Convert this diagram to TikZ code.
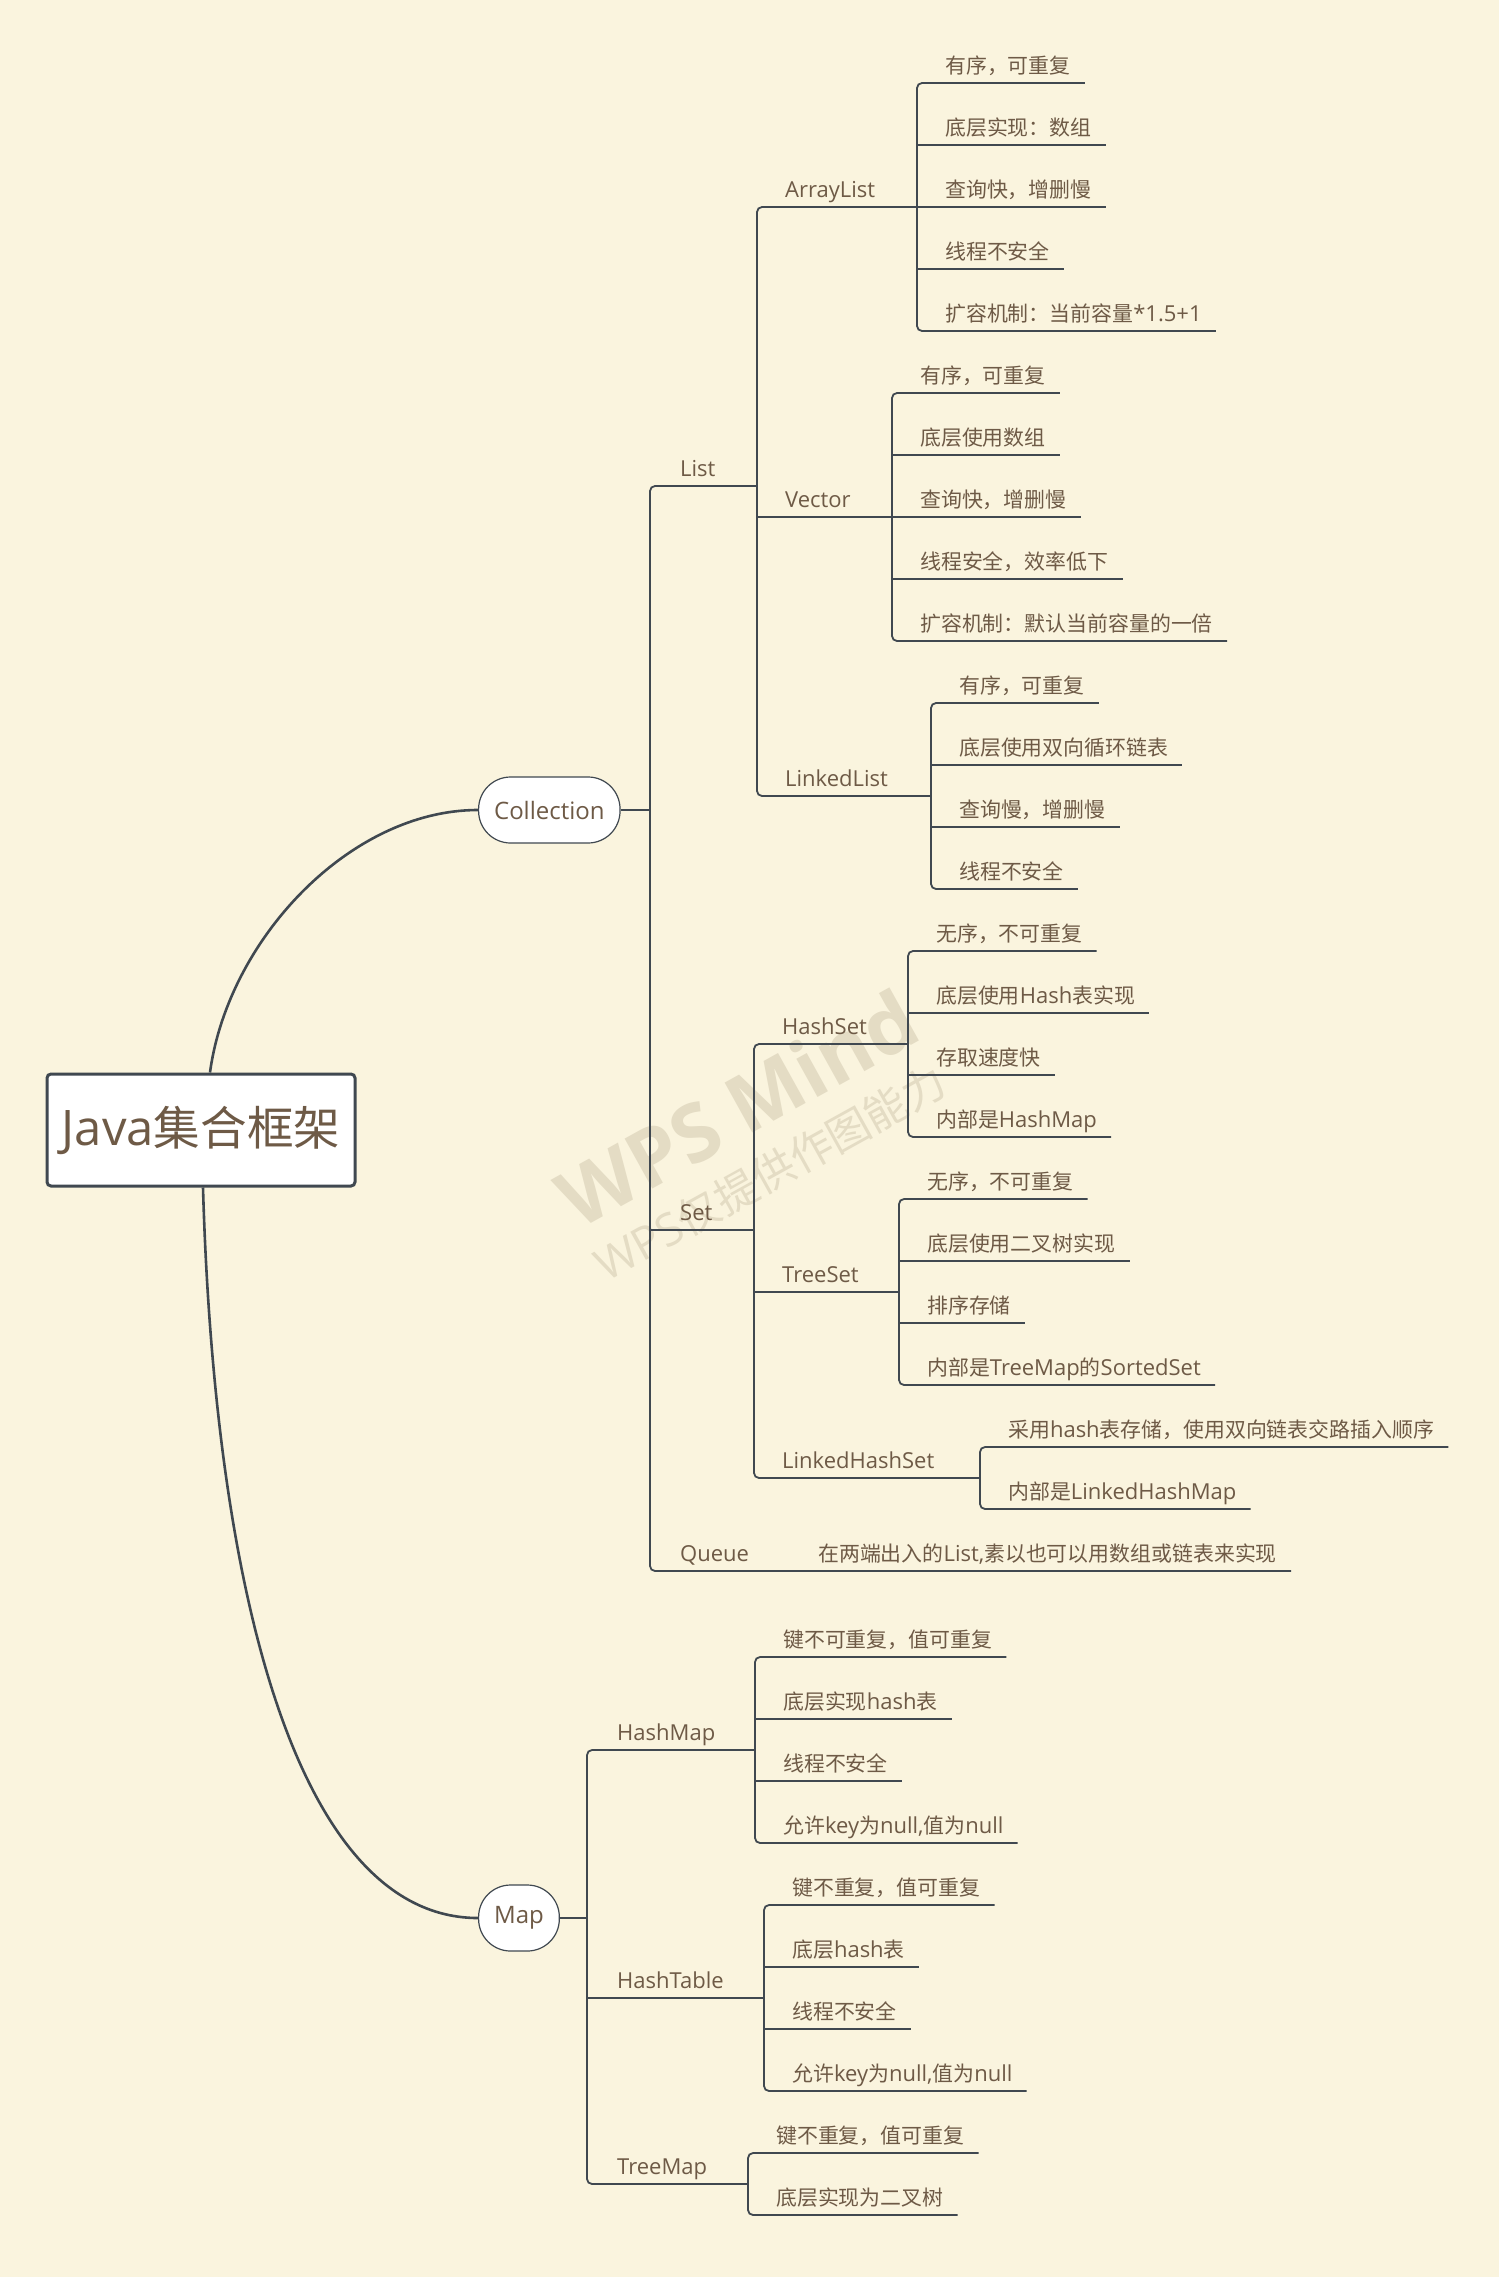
\documentclass[tikz,border=0pt]{standalone}
\usepackage{fontspec}
\setmainfont{Open Sans}
\newfontfamily\cjkfont{Noto Sans CJK SC}[Scale=0.95]
\usetikzlibrary{calc}
\definecolor{paper}{RGB}{250,244,222}
\definecolor{ink}{RGB}{110,90,70}
\definecolor{wire}{RGB}{64,72,80}
\definecolor{wmark}{RGB}{228,220,196}
% ideographs and full-width punctuation go to the CJK font
\XeTeXinterchartokenstate=1
\newXeTeXintercharclass\cjkclass
\newcount\cjkchar
\cjkchar="4E00
\loop
  \XeTeXcharclass\cjkchar=\cjkclass
\ifnum\cjkchar<"9FFF
  \advance\cjkchar by 1
\repeat
\XeTeXcharclass"FF0C=\cjkclass
\XeTeXcharclass"FF1A=\cjkclass
\XeTeXinterchartoks 0 \cjkclass={\cjkfont}
\XeTeXinterchartoks 4095 \cjkclass={\cjkfont}
\XeTeXinterchartoks \cjkclass 0={\rmfamily}
\tikzset{
  rootbox/.style={draw=wire,line width=3pt,rounded corners=4pt,fill=white,minimum width=308pt,minimum height=112pt,text=ink,font=\fontsize{49}{56}\selectfont},
  topic/.style={draw=wire,line width=1.2pt,rounded corners=32pt,fill=white,minimum height=66pt,inner xsep=15.5pt,anchor=west,text=ink,font=\fontsize{24}{28}\selectfont},
  lbl/.style={anchor=south west,inner xsep=14pt,inner ysep=9pt,text depth=0pt,text=ink,font=\fontsize{22}{26}\selectfont},
  branch/.style={draw=wire,line width=1.8pt,rounded corners=5pt},
  curve/.style={draw=wire,line width=2.6pt},
  wm/.style={text=wmark,rotate=29}
}

\begin{document}
\begin{tikzpicture}[x=1pt,y=-1pt]
\fill[paper] (0,0) rectangle (1499,2277);
\useasboundingbox (0,0) rectangle (1499,2277);
\node[wm,font=\bfseries\fontsize{80}{86}\selectfont] (wm1) at (737,1108) {WPS Mind};
\node[wm,font=\fontsize{45}{50}\selectfont] (wm2) at (770,1173) {WPS仅提供作图能力};

\node[rootbox] (root) at (201,1130) {Java集合框架};
\node[topic] (coll) at (478,810) {Collection};
\node[topic] (map) at (478,1918) {Map};

% junctions on the buses
\coordinate (collJ) at (650,810);
\coordinate (listJ) at (757,486);
\coordinate (setJ) at (754,1230);
\coordinate (arrlJ) at (917,207);
\coordinate (vectJ) at (892,517);
\coordinate (lnklJ) at (931,796);
\coordinate (hsetJ) at (908,1044);
\coordinate (tsetJ) at (899,1292);
\coordinate (lhsetJ) at (980,1478);
\coordinate (mapJ) at (587,1918);
\coordinate (hmapJ) at (755,1750);
\coordinate (htabJ) at (764,1998);
\coordinate (tmapJ) at (748,2184);

\node[lbl] (list) at (666,486) {List};
\node[lbl] (set) at (666,1230) {Set};
\node[lbl] (queue) at (666,1571) {Queue};
\node[lbl] (arrl) at (771,207) {ArrayList};
\node[lbl] (vect) at (771,517) {Vector};
\node[lbl] (lnkl) at (771,796) {LinkedList};
\node[lbl] (hset) at (768,1044) {HashSet};
\node[lbl] (tset) at (768,1292) {TreeSet};
\node[lbl] (lhset) at (768,1478) {LinkedHashSet};
\node[lbl] (hmap) at (603,1750) {HashMap};
\node[lbl] (htab) at (603,1998) {HashTable};
\node[lbl] (tmap) at (603,2184) {TreeMap};

% leaves
\node[lbl] (a1) at (931,83) {有序，可重复};
\node[lbl] (a2) at (931,145) {底层实现：数组};
\node[lbl] (a3) at (931,207) {查询快，增删慢};
\node[lbl] (a4) at (931,269) {线程不安全};
\node[lbl] (a5) at (931,331) {扩容机制：当前容量*1.5+1};
\node[lbl] (v1) at (906,393) {有序，可重复};
\node[lbl] (v2) at (906,455) {底层使用数组};
\node[lbl] (v3) at (906,517) {查询快，增删慢};
\node[lbl] (v4) at (906,579) {线程安全，效率低下};
\node[lbl] (v5) at (906,641) {扩容机制：默认当前容量的一倍};
\node[lbl] (k1) at (945,703) {有序，可重复};
\node[lbl] (k2) at (945,765) {底层使用双向循环链表};
\node[lbl] (k3) at (945,827) {查询慢，增删慢};
\node[lbl] (k4) at (945,889) {线程不安全};
\node[lbl] (h1) at (922,951) {无序，不可重复};
\node[lbl] (h2) at (922,1013) {底层使用Hash表实现};
\node[lbl] (h3) at (922,1075) {存取速度快};
\node[lbl] (h4) at (922,1137) {内部是HashMap};
\node[lbl] (t1) at (913,1199) {无序，不可重复};
\node[lbl] (t2) at (913,1261) {底层使用二叉树实现};
\node[lbl] (t3) at (913,1323) {排序存储};
\node[lbl] (t4) at (913,1385) {内部是TreeMap的SortedSet};
\node[lbl] (s1) at (994,1447) {采用hash表存储，使用双向链表交路插入顺序};
\node[lbl] (s2) at (994,1509) {内部是LinkedHashMap};
\node[lbl] (q1) at (804,1571) {在两端出入的List,素以也可以用数组或链表来实现};
\node[lbl] (m1) at (769,1657) {键不可重复，值可重复};
\node[lbl] (m2) at (769,1719) {底层实现hash表};
\node[lbl] (m3) at (769,1781) {线程不安全};
\node[lbl] (m4) at (769,1843) {允许key为null,值为null};
\node[lbl] (b1) at (778,1905) {键不重复，值可重复};
\node[lbl] (b2) at (778,1967) {底层hash表};
\node[lbl] (b3) at (778,2029) {线程不安全};
\node[lbl] (b4) at (778,2091) {允许key为null,值为null};
\node[lbl] (r1) at (762,2153) {键不重复，值可重复};
\node[lbl] (r2) at (762,2215) {底层实现为二叉树};

\draw[curve] ($(root.north)+(9,0)$) .. controls +(18,-133) and +(-128,0) .. (coll.west);
\draw[curve] ($(root.south)+(2,0)$) .. controls +(12,414) and +(-178,0) .. (map.west);

% Collection
\draw[branch] (coll.east) -- (collJ);
\draw[branch] (listJ) -| (collJ) |- (q1.south east);
\draw[branch] (collJ |- setJ) -- (setJ);
\draw[branch] (arrlJ) -| (listJ) |- (lnklJ);
\draw[branch] (listJ |- vectJ) -- (vectJ);
\draw[branch] (hsetJ) -| (setJ) |- (lhsetJ);
\draw[branch] (setJ |- tsetJ) -- (tsetJ);
% ArrayList, Vector, LinkedList
\draw[branch] (a1.south east) -| (arrlJ) |- (a5.south east);
\draw[branch] (arrlJ |- a2.south) -- (a2.south east);
\draw[branch] (arrlJ) -- (a3.south east);
\draw[branch] (arrlJ |- a4.south) -- (a4.south east);
\draw[branch] (v1.south east) -| (vectJ) |- (v5.south east);
\draw[branch] (vectJ |- v2.south) -- (v2.south east);
\draw[branch] (vectJ) -- (v3.south east);
\draw[branch] (vectJ |- v4.south) -- (v4.south east);
\draw[branch] (k1.south east) -| (lnklJ) |- (k4.south east);
\draw[branch] (lnklJ |- k2.south) -- (k2.south east);
\draw[branch] (lnklJ |- k3.south) -- (k3.south east);
% HashSet, TreeSet, LinkedHashSet
\draw[branch] (h1.south east) -| (hsetJ) |- (h4.south east);
\draw[branch] (hsetJ |- h2.south) -- (h2.south east);
\draw[branch] (hsetJ |- h3.south) -- (h3.south east);
\draw[branch] (t1.south east) -| (tsetJ) |- (t4.south east);
\draw[branch] (tsetJ |- t2.south) -- (t2.south east);
\draw[branch] (tsetJ |- t3.south) -- (t3.south east);
\draw[branch] (s1.south east) -| (lhsetJ) |- (s2.south east);
% Map
\draw[branch] (map.east) -- (mapJ);
\draw[branch] (hmapJ) -| (mapJ) |- (tmapJ);
\draw[branch] (mapJ |- htabJ) -- (htabJ);
\draw[branch] (m1.south east) -| (hmapJ) |- (m4.south east);
\draw[branch] (hmapJ |- m2.south) -- (m2.south east);
\draw[branch] (hmapJ |- m3.south) -- (m3.south east);
\draw[branch] (b1.south east) -| (htabJ) |- (b4.south east);
\draw[branch] (htabJ |- b2.south) -- (b2.south east);
\draw[branch] (htabJ |- b3.south) -- (b3.south east);
\draw[branch] (r1.south east) -| (tmapJ) |- (r2.south east);
\end{tikzpicture}
\end{document}
